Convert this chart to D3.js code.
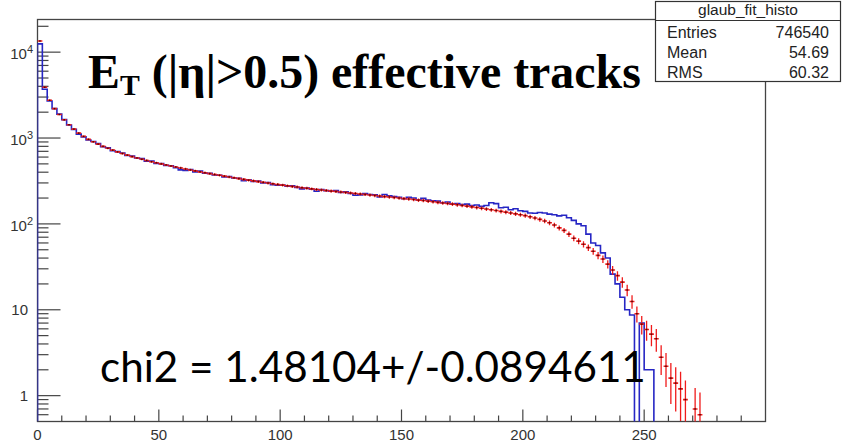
<!DOCTYPE html>
<html><head><meta charset="utf-8">
<script src="https://cdn.jsdelivr.net/npm/d3@7"></script>
<style>body{margin:0;background:#fff}svg{display:block}</style>
</head><body><svg id="c" width="847" height="448"></svg>
<script>
// ---- data (2-unit bins starting at 0) ----
const binWidth = 2;
const dataCounts = [12500,3700,2700,2200,1900,1640,1420,1260,1110,1030,
 950,910,860,790,770,712,694,668,626,618,
 586,578,538,540,506,504,480,476,450,426,
 420,430,404,412,390,388,372,368,352,356,
 342,340,318,326,312,316,300,304,286,282,
 284,274,278,266,256,262,254,240,252,244,
 240,244,232,236,226,216,218,226,220,218,
 206,220,212,208,204,196,204,200,190,198,
 190,186,184,176,180,170,172,168,170,164,
 166,160,164,176,172,154,156,146,150,142,
 140,134,133,136,134,130,128,124,126,118,
 110,100,95,76,60,56,46,40,26,20,
 14,10,8.7,0,7,2,2,0,0,0,
 0,0,0,0,0,0,0,0,0,0];
const fitCounts = [13500,3900,2750,2200,1880,1630,1430,1270,1140,1045,
 965,905,850,800,760,722,690,660,632,608,
 586,566,548,530,515,500,486,473,460,448,
 436,425,414,404,394,385,376,368,360,352,
 344,337,330,323,317,311,305,299,293,288,
 283,278,273,269,264,260,256,252,248,245,
 241,238,235,232,229,226,223,220,217,214,
 211,208,206,203,200,197,195,192,189,187,
 184,181,178,175,173,170,167,164,161,158,
 155,152,149,146,143,140,137,134,131,128,
 125,121,117,113,108,103,97,90,84,76,
 68,63,58,53,48,43,39,34,29,25,
 21,17,12.5,9,6.8,5.9,5.2,4.6,2.8,2.2,
 1.6,1.4,1.2,0.9,0,0.7,0.6,0];
const xMajorTicks = [0,50,100,150,200,250];
const yDecades = [0,1,2,3,4];
const statsTitle = "glaub_fit_histo";
const statsLabels = ["Entries","Mean","RMS"];
const statsValues = ["746540","54.69","60.32"];
const chi2Text = "chi2 = 1.48104+/-0.0894611";

(function(){
// ---- scales ----
const svg = d3.select("#c");
const x = d3.scaleLinear().domain([0,300]).range([37.5,765.5]);
const y = d3.scaleLog().domain([0.5,24000]).range([421.5,19.5]);
const yBot = y.range()[0], yTop = y.range()[1];
const xL = x.range()[0], xR = x.range()[1];

svg.append("defs").append("clipPath").attr("id","pc")
  .append("rect").attr("x",xL).attr("y",yTop).attr("width",xR-xL).attr("height",yBot-yTop);

// frame
svg.append("rect").attr("x",xL).attr("y",yTop).attr("width",xR-xL).attr("height",yBot-yTop)
  .attr("fill","none").attr("stroke","#444").attr("stroke-width",1.3);

// y ticks (log)
const gt = svg.append("g").attr("stroke","#444").attr("stroke-width",1.2);
for (let e=-1; e<=4; e++) for (let m=1; m<=9; m++) {
  const v = m*Math.pow(10,e);
  if (v < 0.55 || v > 24000) continue;
  const len = m===1 ? 23 : 11;
  gt.append("line").attr("x1",xL).attr("x2",xL+len).attr("y1",y(v)).attr("y2",y(v));
}
// x ticks
for (let t=0; t<=290; t+=10) {
  const len = t%50===0 ? 12 : 6;
  gt.append("line").attr("x1",x(t)).attr("x2",x(t)).attr("y1",yBot).attr("y2",yBot-len);
}
// x labels
svg.append("g").selectAll("text").data(xMajorTicks).join("text")
  .attr("x",d=>x(d)).attr("y",440).attr("text-anchor","middle")
  .attr("font-family","Liberation Sans, Arial, sans-serif").attr("font-size",15).attr("fill","#333")
  .text(d=>d);
// y labels
const yl = svg.append("g").attr("font-family","Liberation Sans, Arial, sans-serif").attr("font-size",15).attr("fill","#333");
yDecades.forEach(e=>{
  const v = Math.pow(10,e);
  if (e===0) yl.append("text").attr("x",28).attr("y",y(v)+5).attr("text-anchor","end").text("1");
  else if (e===1) yl.append("text").attr("x",28).attr("y",y(v)+5).attr("text-anchor","end").text("10");
  else {
    const t = yl.append("text").attr("x",33).attr("y",y(v)+7).attr("text-anchor","end");
    t.append("tspan").text("10");
    t.append("tspan").attr("font-size",11).attr("dy",-6).text(e);
  }
});

// blue data histogram
const plot = svg.append("g").attr("clip-path","url(#pc)");
const pts = [[x(0), yBot]];
dataCounts.forEach((v,i)=>{
  const yy = v>0 ? y(v) : yBot+3;
  pts.push([x(i*binWidth), yy],[x((i+1)*binWidth), yy]);
});
pts.push([x(dataCounts.length*binWidth), yBot+3]);
plot.append("path").attr("d", d3.line()(pts)).attr("fill","none")
  .attr("stroke","#2626c4").attr("stroke-width",1.6).attr("stroke-linejoin","miter");

// red fit histogram with error bars
const errK = 0.4;
const red = plot.append("g");
fitCounts.forEach((v,i)=>{
  if (v<=0) return;
  const err = Math.sqrt(v*errK);
  const cx = x((i+0.5)*binWidth);
  red.append("line").attr("x1",cx).attr("x2",cx)
    .attr("y1",y(v+err)).attr("y2",y(Math.max(v-err,0.3)))
    .attr("stroke","#f01a1a").attr("stroke-width",1.3);
  red.append("line").attr("x1",x(i*binWidth)).attr("x2",x((i+1)*binWidth))
    .attr("y1",y(v)).attr("y2",y(v)).attr("stroke","#f01a1a").attr("stroke-width",1.6);
  red.append("rect").attr("x",cx-0.8).attr("y",y(v)-0.7).attr("width",1.6).attr("height",1.4).attr("fill","#4a0a0a");
});

// title
const title = svg.append("text").attr("x",88).attr("y",88)
  .attr("font-family","Liberation Serif, Times New Roman, serif").attr("font-weight","bold")
  .attr("font-size",44).attr("fill","#000");
title.append("tspan").text("E");
title.append("tspan").attr("font-size","0.62em").attr("dy","0.22em").text("T");
title.append("tspan").attr("dy","-0.137em").text(" (|η|>0.5) effective tracks");
function fitWidth(sel, target){
  const fs = parseFloat(sel.attr("font-size"));
  const w = sel.node().getComputedTextLength();
  sel.attr("font-size", fs*target/w);
}
fitWidth(title, 553);

// chi2
const chi = svg.append("text").attr("x",100).attr("y",382)
  .attr("font-family","Lato, Open Sans, sans-serif").attr("font-size",46).attr("fill","#000").text(chi2Text);
fitWidth(chi, 546);

// stats box
const sb = svg.append("g");
sb.append("rect").attr("x",655.5).attr("y",1.5).attr("width",185).attr("height",80)
  .attr("fill","#fff").attr("stroke","#333").attr("stroke-width",1.2);
sb.append("line").attr("x1",655.5).attr("x2",840.5).attr("y1",20.5).attr("y2",20.5).attr("stroke","#333").attr("stroke-width",1.2);
sb.append("text").attr("x",748).attr("y",15).attr("text-anchor","middle")
  .attr("font-family","Liberation Sans, Arial, sans-serif").attr("font-size",15.5).attr("fill","#222").text(statsTitle);
statsLabels.forEach((lab,i)=>{
  sb.append("text").attr("x",667).attr("y",37.5+i*20)
    .attr("font-family","Liberation Sans, Arial, sans-serif").attr("font-size",16).attr("fill","#222").text(lab);
  sb.append("text").attr("x",829).attr("y",37.5+i*20).attr("text-anchor","end")
    .attr("font-family","Liberation Sans, Arial, sans-serif").attr("font-size",16).attr("fill","#222").text(statsValues[i]);
});
})();
</script></body></html>
